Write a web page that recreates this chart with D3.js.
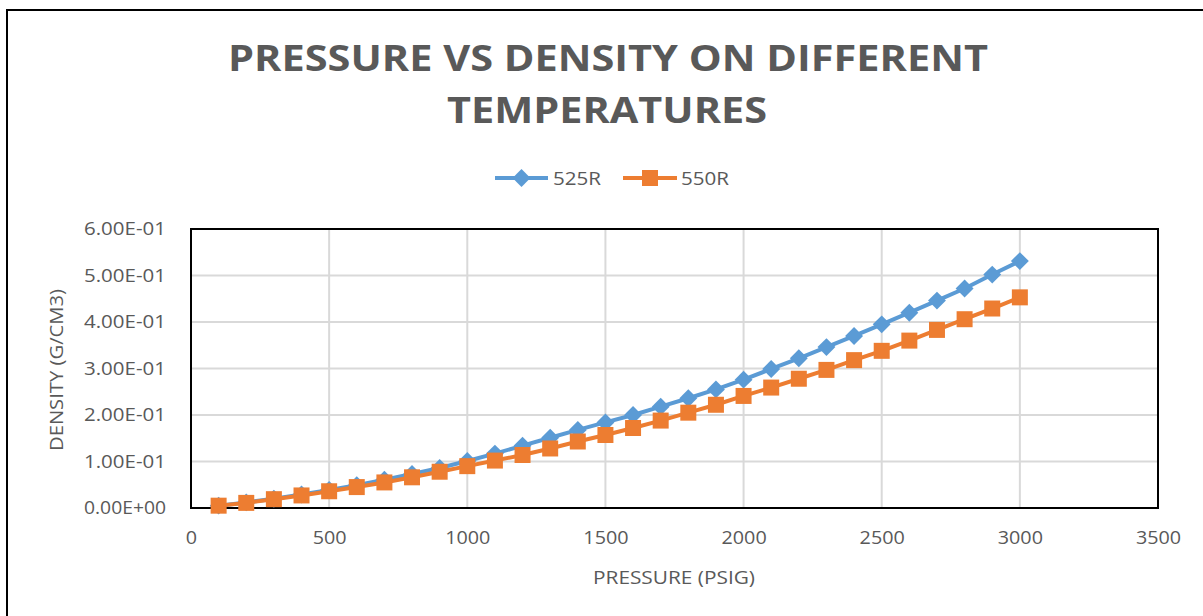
<!DOCTYPE html>
<html>
<head>
<meta charset="utf-8">
<script src="https://cdn.jsdelivr.net/npm/d3@7"></script>
<style>
  html, body { margin: 0; padding: 0; background: #fff; }
  svg { display: block; }
  text { font-family: "Open Sans", "DejaVu Sans", sans-serif; fill: #595959; }
</style>
</head>
<body>
<svg id="chart" width="1203" height="616"></svg>
<script>
// Pressure readings (psig)
const pressure = [100, 200, 300, 400, 500, 600, 700, 800, 900, 1000,
  1100, 1200, 1300, 1400, 1500, 1600, 1700, 1800, 1900, 2000,
  2100, 2200, 2300, 2400, 2500, 2600, 2700, 2800, 2900, 3000];

// Density (g/cm3) at 525 R
const density525 = [0.005, 0.012, 0.020, 0.029, 0.039, 0.049, 0.061, 0.073, 0.086, 0.101,
  0.117, 0.134, 0.151, 0.168, 0.184, 0.200, 0.218, 0.236, 0.255, 0.276,
  0.299, 0.322, 0.346, 0.370, 0.395, 0.420, 0.446, 0.472, 0.502, 0.531];

// Density (g/cm3) at 550 R
const density550 = [0.005, 0.011, 0.019, 0.027, 0.036, 0.045, 0.055, 0.066, 0.078, 0.090,
  0.102, 0.114, 0.128, 0.143, 0.157, 0.172, 0.188, 0.205, 0.222, 0.241,
  0.259, 0.278, 0.297, 0.318, 0.338, 0.360, 0.383, 0.406, 0.429, 0.453];

const seriesNames = ["525R", "550R"];
const xTicks = [0, 500, 1000, 1500, 2000, 2500, 3000, 3500];
const yTicks = [0, 0.1, 0.2, 0.3, 0.4, 0.5, 0.6];
const titleLines = ["PRESSURE VS DENSITY ON DIFFERENT", "TEMPERATURES"];
const xTitle = "PRESSURE (PSIG)";
const yTitle = "DENSITY (G/CM3)";

const colors = ["#5B9BD5", "#ED7D31"];
const svg = d3.select("#chart");

// outer chart frame (runs off the right and bottom edges)
svg.append("rect")
  .attr("x", 7).attr("y", 10).attr("width", 1220).attr("height", 640)
  .attr("fill", "#fff").attr("stroke", "#000").attr("stroke-width", 2);

const plot = { left: 191, right: 1158, top: 229, bottom: 508 };
const x = d3.scaleLinear().domain([0, 3500]).range([plot.left, plot.right]);
const y = d3.scaleLinear().domain([0, 0.6]).range([plot.bottom, plot.top]);

// gridlines
const grid = svg.append("g");
grid.selectAll("line.h").data(yTicks).join("line")
  .attr("x1", plot.left).attr("x2", plot.right)
  .attr("y1", d => y(d)).attr("y2", d => y(d))
  .attr("stroke", "#d9d9d9").attr("stroke-width", 2);
grid.selectAll("line.v").data(xTicks).join("line")
  .attr("y1", plot.top).attr("y2", plot.bottom)
  .attr("x1", d => x(d)).attr("x2", d => x(d))
  .attr("stroke", "#d9d9d9").attr("stroke-width", 2);

// plot-area border
svg.append("rect")
  .attr("x", plot.left).attr("y", plot.top)
  .attr("width", plot.right - plot.left).attr("height", plot.bottom - plot.top)
  .attr("fill", "none").attr("stroke", "#000").attr("stroke-width", 2);

// axes (labels only); labels are condensed to a narrow face width
const xAxis = d3.axisBottom(x).tickValues(xTicks).tickSize(0).tickPadding(0).tickFormat(d3.format("d"));
svg.append("g").attr("transform", `translate(0,${plot.bottom + 23})`).call(xAxis)
  .call(g => g.select(".domain").remove())
  .call(g => g.selectAll("text").attr("font-size", 18).attr("fill", "#595959")
    .attr("font-family", "'Open Sans', sans-serif").attr("dy", "0.71em")
    .attr("textLength", function () { return this.textContent.length * 11.3; })
    .attr("lengthAdjust", "spacingAndGlyphs"));

const yFmt = d => d === 0 ? "0.00E+00" : d3.format(".2e")(d).replace("e-", "E-0").toUpperCase();
const yAxis = d3.axisLeft(y).tickValues(yTicks).tickSize(0).tickPadding(0).tickFormat(yFmt);
svg.append("g").attr("transform", `translate(${plot.left - 25},0)`).call(yAxis)
  .call(g => g.select(".domain").remove())
  .call(g => g.selectAll("text").attr("font-size", 18).attr("fill", "#595959")
    .attr("font-family", "'Open Sans', sans-serif")
    .attr("textLength", 82).attr("lengthAdjust", "spacingAndGlyphs"));

// series
const data = [density525, density550];
const line = d3.line().x((d, i) => x(pressure[i])).y(d => y(d));
const diamond = d3.symbol().type(d3.symbolSquare).size(160);
const square = d3.symbol().type(d3.symbolSquare).size(256);

data.forEach((vals, si) => {
  const g = svg.append("g");
  g.append("path").datum(vals).attr("d", line)
    .attr("fill", "none").attr("stroke", colors[si]).attr("stroke-width", 4)
    .attr("stroke-linejoin", "round");
  g.selectAll("path.m").data(vals).join("path")
    .attr("class", "m")
    .attr("d", si === 0 ? diamond : square)
    .attr("transform", (d, i) => `translate(${x(pressure[i])},${y(d)})` + (si === 0 ? " rotate(45)" : ""))
    .attr("fill", colors[si]);
});

// title
svg.append("text").attr("x", 608).attr("y", 71).attr("text-anchor", "middle")
  .attr("font-size", 36).attr("font-weight", 700)
  .attr("textLength", 760).attr("lengthAdjust", "spacingAndGlyphs")
  .text(titleLines[0]);
svg.append("text").attr("x", 607).attr("y", 123).attr("text-anchor", "middle")
  .attr("font-size", 36).attr("font-weight", 700)
  .attr("textLength", 320).attr("lengthAdjust", "spacingAndGlyphs")
  .text(titleLines[1]);

// legend
const legendItems = [
  { x0: 495, x1: 548, tx: 553 },
  { x0: 623, x1: 677, tx: 681 }
];
legendItems.forEach((it, si) => {
  const g = svg.append("g");
  g.append("line").attr("x1", it.x0).attr("x2", it.x1).attr("y1", 178).attr("y2", 178)
    .attr("stroke", colors[si]).attr("stroke-width", 4);
  g.append("path").attr("d", si === 0 ? diamond : square)
    .attr("transform", `translate(${(it.x0 + it.x1) / 2},178)` + (si === 0 ? " rotate(45)" : ""))
    .attr("fill", colors[si]);
  g.append("text").attr("x", it.tx).attr("y", 178).attr("dy", "0.35em")
    .attr("font-size", 19).attr("textLength", 48).attr("lengthAdjust", "spacingAndGlyphs")
    .text(seriesNames[si]);
});

// axis titles
svg.append("text").attr("x", 674).attr("y", 578).attr("dy", "0.35em")
  .attr("text-anchor", "middle").attr("font-size", 18)
  .attr("textLength", 162).attr("lengthAdjust", "spacingAndGlyphs").text(xTitle);
svg.append("text").attr("transform", "translate(57,370) rotate(-90)")
  .attr("dy", "0.35em").attr("text-anchor", "middle").attr("font-size", 18)
  .attr("textLength", 162).attr("lengthAdjust", "spacingAndGlyphs").text(yTitle);
</script>
</body>
</html>
